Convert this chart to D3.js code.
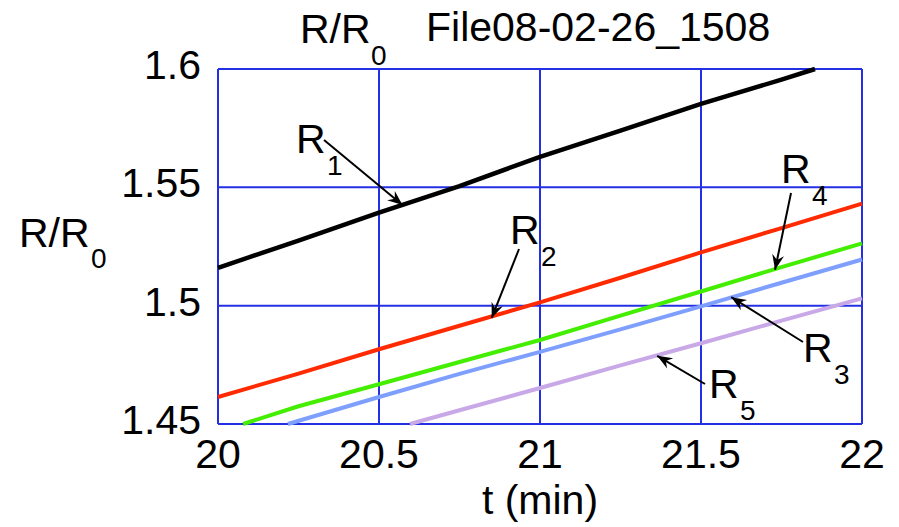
<!DOCTYPE html>
<html>
<head>
<meta charset="utf-8">
<script src="https://cdn.jsdelivr.net/npm/d3@7"></script>
<style>
  body { margin: 0; background: #fff; }
  text { font-family: "Liberation Sans", Arial, sans-serif; fill: #000; }
</style>
</head>
<body>
<div id="chart"></div>
<script>
// R/R0 readings per channel, t in minutes
const tR1 = [20, 20.25, 20.5, 20.75, 21, 21.25, 21.5, 21.75, 21.854]
const vR1 = [1.516, 1.5275, 1.5393, 1.5505, 1.5629, 1.574, 1.5853, 1.5955, 1.6]
const tR2 = [20, 20.25, 20.5, 20.75, 21, 21.25, 21.5, 21.75, 22]
const vR2 = [1.4614, 1.4713, 1.4816, 1.4915, 1.5014, 1.5118, 1.5225, 1.5328, 1.5431]
const tR3 = [20.217, 20.5, 20.75, 21, 21.25, 21.5, 21.75, 22]
const vR3 = [1.45, 1.4614, 1.4712, 1.4805, 1.49, 1.4997, 1.5097, 1.5195]
const tR4 = [20.078, 20.25, 20.5, 20.75, 21, 21.25, 21.5, 21.75, 22]
const vR4 = [1.45, 1.4575, 1.4668, 1.4762, 1.4855, 1.4958, 1.506, 1.5163, 1.5263]
const tR5 = [20.596, 20.75, 21, 21.25, 21.5, 21.75, 22]
const vR5 = [1.45, 1.4558, 1.4652, 1.4748, 1.4841, 1.4937, 1.5031]

const xTicks = [20, 20.5, 21, 21.5, 22]
const yTicks = [1.45, 1.5, 1.55, 1.6]

const series = [
    {name: "R1", t: tR1, v: vR1, color: "#000000", w: 4.5},
    {name: "R2", t: tR2, v: vR2, color: "#ff2a00", w: 4},
    {name: "R4", t: tR4, v: vR4, color: "#44ee00", w: 4},
    {name: "R3", t: tR3, v: vR3, color: "#7f9fff", w: 4},
    {name: "R5", t: tR5, v: vR5, color: "#c8a8e6", w: 4}
]

// label: text position (px), arrow start (px) and arrow tip in data coords
const labels = [
    {sub: "1", x: 296, y: 153, ax: 324, ay: 140, tip: [20.573, 1.5425]},
    {sub: "2", x: 510, y: 244, ax: 519, ay: 249, tip: [20.85, 1.4948]},
    {sub: "4", x: 781, y: 183, ax: 791, ay: 193, tip: [21.73, 1.5152]},
    {sub: "3", x: 803, y: 362, ax: 803, ay: 342, tip: [21.594, 1.5036]},
    {sub: "5", x: 709, y: 398, ax: 705, ay: 384, tip: [21.364, 1.4788]}
]

const W = 899, H = 527
const margin = {left: 218, right: 37, top: 69, bottom: 103}
const big = "41px", small = "28px"

const x = d3.scaleLinear().domain([20, 22]).range([margin.left, W - margin.right])
const y = d3.scaleLinear().domain([1.45, 1.6]).range([H - margin.bottom, margin.top])

const svg = d3.select("#chart").append("svg")
    .attr("width", W)
    .attr("height", H)

svg.append("defs").append("marker")
    .attr("id", "arr")
    .attr("viewBox", "-16 -7 18 14")
    .attr("markerWidth", 18)
    .attr("markerHeight", 14)
    .attr("markerUnits", "userSpaceOnUse")
    .attr("orient", "auto")
    .attr("refX", 0)
    .attr("refY", 0)
    .append("path")
    .attr("d", "M0,0 L-15,-6 L-10,0 L-15,6 Z")
    .attr("fill", "#000")

// grid + frame
const grid = svg.append("g").attr("stroke", "#2430e4").attr("stroke-width", 2)
grid.selectAll("line.v")
    .data(xTicks)
    .join("line")
    .attr("x1", d => x(d)).attr("x2", d => x(d))
    .attr("y1", y(1.45)).attr("y2", y(1.6))
grid.selectAll("line.h")
    .data(yTicks)
    .join("line")
    .attr("class", "h")
    .attr("x1", x(20)).attr("x2", x(22))
    .attr("y1", d => y(d)).attr("y2", d => y(d))

// tick labels
svg.append("g")
    .selectAll("text")
    .data(xTicks)
    .join("text")
    .attr("x", d => x(d))
    .attr("y", H - margin.bottom + 44)
    .attr("text-anchor", "middle")
    .style("font-size", big)
    .text(d => d)

svg.append("g")
    .selectAll("text")
    .data(yTicks)
    .join("text")
    .attr("x", margin.left - 17)
    .attr("y", d => y(d) + 10)
    .attr("text-anchor", "end")
    .style("font-size", big)
    .text(d => d)

// curves
const line = d3.line()
    .x(d => x(d[0]))
    .y(d => y(d[1]))

series.forEach(s => {
    svg.append("path")
        .datum(s.t.map((t, i) => [t, s.v[i]]))
        .attr("d", line)
        .attr("fill", "none")
        .attr("stroke", s.color)
        .attr("stroke-width", s.w)
        .attr("stroke-linejoin", "round")
})

// R labels with arrows
labels.forEach(l => {
    svg.append("line")
        .attr("x1", l.ax).attr("y1", l.ay)
        .attr("x2", x(l.tip[0])).attr("y2", y(l.tip[1]))
        .attr("stroke", "#000")
        .attr("stroke-width", 2)
        .attr("marker-end", "url(#arr)")
    svg.append("text")
        .attr("x", l.x).attr("y", l.y)
        .style("font-size", big)
        .text("R")
    svg.append("text")
        .attr("x", l.x + 31).attr("y", l.y + 22)
        .style("font-size", small)
        .text(l.sub)
})

// title
svg.append("text").attr("x", 300).attr("y", 43).style("font-size", big).text("R/R")
svg.append("text").attr("x", 371).attr("y", 65).style("font-size", small).text("0")
svg.append("text").attr("x", 426).attr("y", 41).style("font-size", big).text("File08-02-26_1508")

// axis titles
svg.append("text").attr("x", 19).attr("y", 247).style("font-size", big).text("R/R")
svg.append("text").attr("x", 91).attr("y", 268).style("font-size", small).text("0")
svg.append("text")
    .attr("x", x(21))
    .attr("y", 514)
    .attr("text-anchor", "middle")
    .style("font-size", big)
    .text("t (min)")
</script>
</body>
</html>
